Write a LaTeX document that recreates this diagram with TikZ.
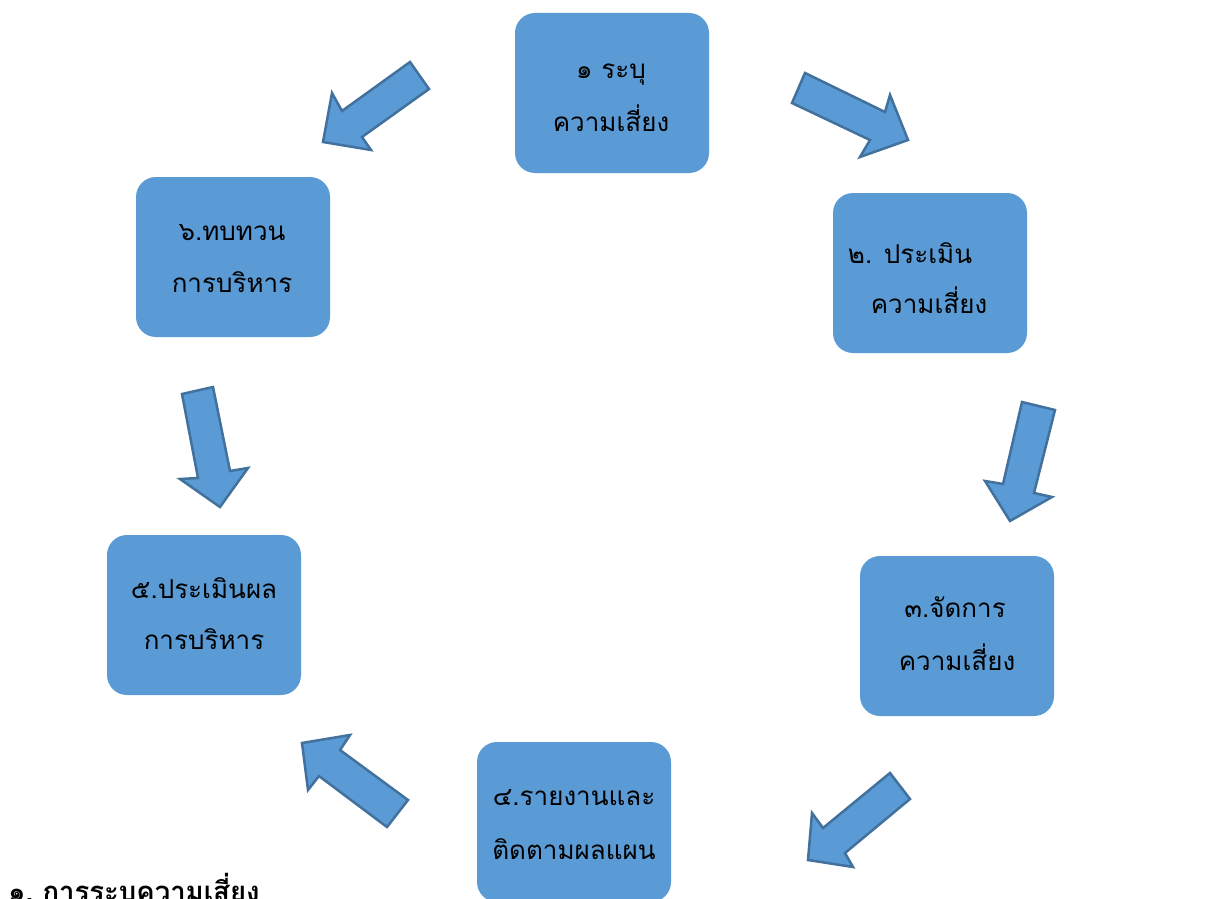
\documentclass[tikz,border=0pt]{standalone}
\usepackage{fontspec}
\newfontfamily\thaifont[Script=Thai]{Loma}
\definecolor{boxblue}{HTML}{5B9BD5}
\definecolor{arrowedge}{HTML}{41719C}
\begin{document}
\begin{tikzpicture}[x=1pt,y=-1pt,
  stepbox/.style={fill=boxblue,draw=none,rounded corners=20pt,minimum width=194pt,minimum height=160pt,inner sep=0pt},
  blockarrow/.style={fill=boxblue,draw=arrowedge,line width=2.5pt,line join=miter},
  lbl/.style={anchor=base,inner sep=0pt,font=\thaifont\fontsize{26}{30}\selectfont,text=black}]
\useasboundingbox (0,0) rectangle (1221,899);
\clip (0,0) rectangle (1221,899);
\fill[white] (0,0) rectangle (1221,899);
% boxes
\node[stepbox] (b1) at (612,93) {};
\node[stepbox] (b2) at (930,273) {};
\node[stepbox] (b3) at (957,636) {};
\node[stepbox] (b4) at (574,822) {};
\node[stepbox] (b5) at (204,615) {};
\node[stepbox] (b6) at (233,257) {};
% labels
\node[lbl] (t1a) at (611,78) {๑ ระบุ};
\node[lbl] (t1b) at (611,131) {ความเสี่ยง};
\node[lbl] (t2a) at (910,263) {๒. ประเมิน};
\node[lbl] (t2b) at (929,313) {ความเสี่ยง};
\node[lbl] (t3a) at (955,617) {๓.จัดการ};
\node[lbl] (t3b) at (957,670) {ความเสี่ยง};
\node[lbl] (t4a) at (574,805) {๔.รายงานและ};
\node[lbl] (t4b) at (574,859) {ติดตามผลแผน};
\node[lbl] (t5a) at (204,598) {๕.ประเมินผล};
\node[lbl] (t5b) at (204,649) {การบริหาร};
\node[lbl] (t6a) at (232,240) {๖.ทบทวน};
\node[lbl] (t6b) at (232,292) {การบริหาร};
% block arrows
\draw[blockarrow] (410,62) -- (342,111) -- (332,93) -- (323,142) -- (371,150) -- (362,137) -- (429,89) -- cycle;
\draw[blockarrow] (805,73) -- (885,112) -- (890,95) -- (908,140) -- (860,157) -- (870,140) -- (792,103) -- cycle;
\draw[blockarrow] (1022,402) -- (1003,484) -- (985,481) -- (1010,521) -- (1052,497) -- (1034,493) -- (1055,410) -- cycle;
\draw[blockarrow] (890,773) -- (823,828) -- (812,813) -- (808,860) -- (853,867) -- (845,853) -- (910,799) -- cycle;
\draw[blockarrow] (408,800) -- (340,750) -- (350,735) -- (302,743) -- (308,790) -- (319,776) -- (387,827) -- cycle;
\draw[blockarrow] (182,394) -- (198,478) -- (180,479) -- (220,507) -- (248,468) -- (230,471) -- (213,387) -- cycle;
% bottom heading
\node[anchor=base west,inner sep=0pt,font=\thaifont\bfseries\fontsize{27.5}{30}\selectfont] (head) at (8,901) {๑.\ การระบุความเสี่ยง};
\end{tikzpicture}
\end{document}
